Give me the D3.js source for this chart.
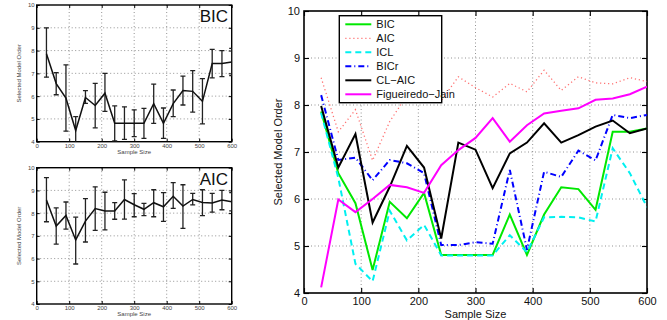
<!DOCTYPE html>
<html>
<head>
<meta charset="utf-8">
<script src="https://cdn.jsdelivr.net/npm/d3@7"></script>
<style>
  body { margin: 0; background: #fff; }
  svg { font-family: "Liberation Sans", Arial, sans-serif; }
</style>
</head>
<body>
<svg id="chart" width="667" height="320"></svg>
<script>
// sample sizes (x) shared by all series
const sampleSizes = [30, 60, 90, 120, 150, 180, 210, 240, 270, 300, 330, 360, 390, 420, 450, 480, 510, 540, 570, 600];
const xTicks = [0, 100, 200, 300, 400, 500, 600];
const yTicks = [4, 5, 6, 7, 8, 9, 10];

// selected model order, mean per method
const bic   = [7.86, 6.55, 5.91, 4.49, 5.94, 5.59, 6.13, 4.81, 4.81, 4.81, 4.81, 5.67, 4.81, 5.67, 6.25, 6.21, 5.77, 7.43, 7.43, 7.50];
const aic   = [8.58, 7.43, 7.90, 6.82, 7.65, 8.20, 8.09, 8.09, 8.60, 8.37, 8.17, 8.46, 8.28, 8.74, 8.31, 8.60, 8.47, 8.45, 8.58, 8.50];
const icl   = [7.83, 6.45, 4.62, 4.25, 5.75, 5.12, 5.45, 4.80, 4.80, 4.80, 4.80, 5.23, 4.87, 5.61, 5.62, 5.61, 5.52, 7.08, 6.55, 5.83];
const bicr  = [8.21, 6.83, 6.88, 6.40, 6.83, 6.76, 6.55, 5.02, 5.02, 5.08, 5.05, 6.62, 4.92, 6.58, 6.47, 7.03, 6.82, 7.79, 7.72, 7.79];
const clAic = [7.98, 6.67, 7.38, 5.50, 6.26, 7.13, 6.67, 5.16, 7.20, 7.05, 6.23, 6.97, 7.20, 7.61, 7.20, 7.36, 7.54, 7.67, 7.40, 7.50];
const fj    = [4.12, 5.99, 5.72, 6.00, 6.30, 6.25, 6.13, 6.72, 7.04, 7.30, 7.72, 7.22, 7.57, 7.82, 7.88, 7.93, 8.11, 8.14, 8.23, 8.39];

// error bar ends for the small panels
const bicHigh = [9.00, 7.03, 7.37, 5.10, 6.24, 6.56, 7.00, 5.57, 5.53, 5.40, 5.46, 6.53, 5.48, 6.27, 6.88, 7.12, 6.77, 8.05, 8.00, 8.10];
const bicLow  = [6.83, 6.06, 4.46, 3.90, 5.68, 4.61, 5.33, 4.03, 4.10, 4.22, 4.15, 4.80, 4.15, 5.10, 5.61, 5.30, 4.78, 6.80, 6.86, 6.90];
const aicHigh = [9.56, 8.23, 8.49, 7.82, 8.64, 9.16, 8.92, 8.46, 9.46, 8.86, 8.43, 9.03, 8.90, 9.34, 9.25, 8.87, 9.03, 8.87, 9.00, 8.90];
const aicLow  = [7.62, 6.64, 7.30, 5.76, 6.73, 7.24, 7.26, 7.73, 7.74, 7.84, 7.89, 7.84, 7.64, 8.21, 7.33, 8.36, 7.89, 8.04, 8.15, 8.10];

const svg = d3.select('#chart');

// matlab-ish axes box: dotted grid, inward ticks on all sides
function drawAxes(g, x, y, o) {
  const w = x.range()[1], h = y.range()[0];
  const grid = g.append('g')
    .attr('stroke', '#777').attr('stroke-width', 0.8).attr('stroke-dasharray', '1,2.5');
  grid.selectAll('.gx').data(xTicks.slice(1, -1)).join('line')
    .attr('x1', d => x(d)).attr('x2', d => x(d)).attr('y1', 0).attr('y2', h);
  grid.selectAll('.gy').data(yTicks.slice(1, -1)).join('line')
    .attr('y1', d => y(d)).attr('y2', d => y(d)).attr('x1', 0).attr('x2', w);

  const fmt = d3.format('d');
  const axes = [
    [d3.axisBottom(x).tickValues(xTicks), `translate(0,${h})`, true],
    [d3.axisTop(x).tickValues(xTicks), 'translate(0,0)', false],
    [d3.axisLeft(y).tickValues(yTicks), 'translate(0,0)', true],
    [d3.axisRight(y).tickValues(yTicks), `translate(${w},0)`, false]
  ];
  axes.forEach(([ax, tr, labels]) => {
    ax.tickSizeInner(-o.tick).tickSizeOuter(0).tickPadding(o.pad).tickFormat(labels ? fmt : '');
    const a = g.append('g').attr('transform', tr).call(ax);
    a.select('.domain').remove();
    a.selectAll('line').attr('stroke', '#000').attr('stroke-width', o.stroke * 0.7);
    a.selectAll('text').attr('font-size', o.font).attr('fill', o.textColor);
  });

  g.append('rect').attr('width', w).attr('height', h)
    .attr('fill', 'none').attr('stroke', '#000').attr('stroke-width', o.stroke);

  g.append('text').attr('x', w / 2).attr('y', h + o.xTitle)
    .attr('text-anchor', 'middle').attr('font-size', o.font).attr('fill', o.textColor)
    .text('Sample Size');
  g.append('text')
    .attr('transform', `translate(${-o.yTitle},${h / 2}) rotate(-90)`)
    .attr('text-anchor', 'middle').attr('font-size', o.font).attr('fill', o.textColor)
    .text('Selected Model Order');
}

// small panel with error bars
function errorPanel(left, top, w, h, mean, low, high, label, id) {
  const g = svg.append('g').attr('transform', `translate(${left},${top})`);
  const x = d3.scaleLinear().domain([0, 600]).range([0, w]);
  const y = d3.scaleLinear().domain([4, 10]).range([h, 0]);
  drawAxes(g, x, y, { tick: 3, pad: 2, stroke: 1.4, font: 6, textColor: '#444', xTitle: 12, yTitle: 16 });

  g.append('clipPath').attr('id', id).append('rect').attr('width', w).attr('height', h);
  const p = g.append('g').attr('clip-path', `url(#${id})`);
  const bars = p.append('g').attr('stroke', '#222').attr('stroke-width', 1.3);
  sampleSizes.forEach((n, i) => {
    bars.append('line').attr('x1', x(n)).attr('x2', x(n)).attr('y1', y(low[i])).attr('y2', y(high[i]));
    [low[i], high[i]].forEach(v => bars.append('line')
      .attr('x1', x(n) - 2.5).attr('x2', x(n) + 2.5).attr('y1', y(v)).attr('y2', y(v)));
  });
  p.append('path').datum(mean)
    .attr('fill', 'none').attr('stroke', '#111').attr('stroke-width', 1.5)
    .attr('d', d3.line().x((d, i) => x(sampleSizes[i])).y(d => y(d)));

  g.append('text').attr('x', w - 32).attr('y', 17)
    .attr('font-size', 17).attr('fill', '#111').text(label);
}

errorPanel(36.7, 5, 195, 136.7, bic, bicLow, bicHigh, 'BIC', 'clipBic');
errorPanel(36.7, 167.7, 195, 136.3, aic, aicLow, aicHigh, 'AIC', 'clipAic');

// main comparison chart
const mainSeries = [
  { name: 'BIC', values: bic, color: '#00e800', width: 2, dash: null },
  { name: 'AIC', values: aic, color: '#ff7070', width: 1.3, dash: '1.2,2.8' },
  { name: 'ICL', values: icl, color: '#00f0f0', width: 2, dash: '6,4' },
  { name: 'BICr', values: bicr, color: '#0000ff', width: 2, dash: '6,3,1,3' },
  { name: 'CL\u2212AIC', values: clAic, color: '#000', width: 2, dash: null },
  { name: 'Figueiredo\u2212Jain', values: fj, color: '#ff00ff', width: 2, dash: null }
];

const mw = 343, mh = 282;
const gm = svg.append('g').attr('transform', 'translate(304,11)');
const xm = d3.scaleLinear().domain([0, 600]).range([0, mw]);
const ym = d3.scaleLinear().domain([4, 10]).range([mh, 0]);
drawAxes(gm, xm, ym, { tick: 5, pad: 4, stroke: 1.6, font: 11, textColor: '#111', xTitle: 25, yTitle: 22 });

gm.append('clipPath').attr('id', 'clipMain').append('rect').attr('width', mw).attr('height', mh);
const lines = gm.append('g').attr('clip-path', 'url(#clipMain)');
const line = d3.line().x((d, i) => xm(sampleSizes[i])).y(d => ym(d));
mainSeries.forEach(s => {
  lines.append('path').datum(s.values)
    .attr('fill', 'none').attr('stroke', s.color).attr('stroke-width', s.width)
    .attr('stroke-dasharray', s.dash).attr('stroke-linejoin', 'miter')
    .attr('d', line);
});

// legend
const lg = gm.append('g').attr('transform', 'translate(35.3,4.7)');
lg.append('rect').attr('width', 102.4).attr('height', 87)
  .attr('fill', '#fff').attr('stroke', '#000').attr('stroke-width', 1.4);
mainSeries.forEach((s, i) => {
  const yy = 8.6 + i * 14;
  lg.append('line').attr('x1', 6).attr('x2', 32).attr('y1', yy).attr('y2', yy)
    .attr('stroke', s.color).attr('stroke-width', s.width).attr('stroke-dasharray', s.dash);
  lg.append('text').attr('x', 37).attr('y', yy).attr('dy', '0.35em')
    .attr('font-size', 11).attr('fill', '#111').text(s.name);
});
</script>
</body>
</html>
